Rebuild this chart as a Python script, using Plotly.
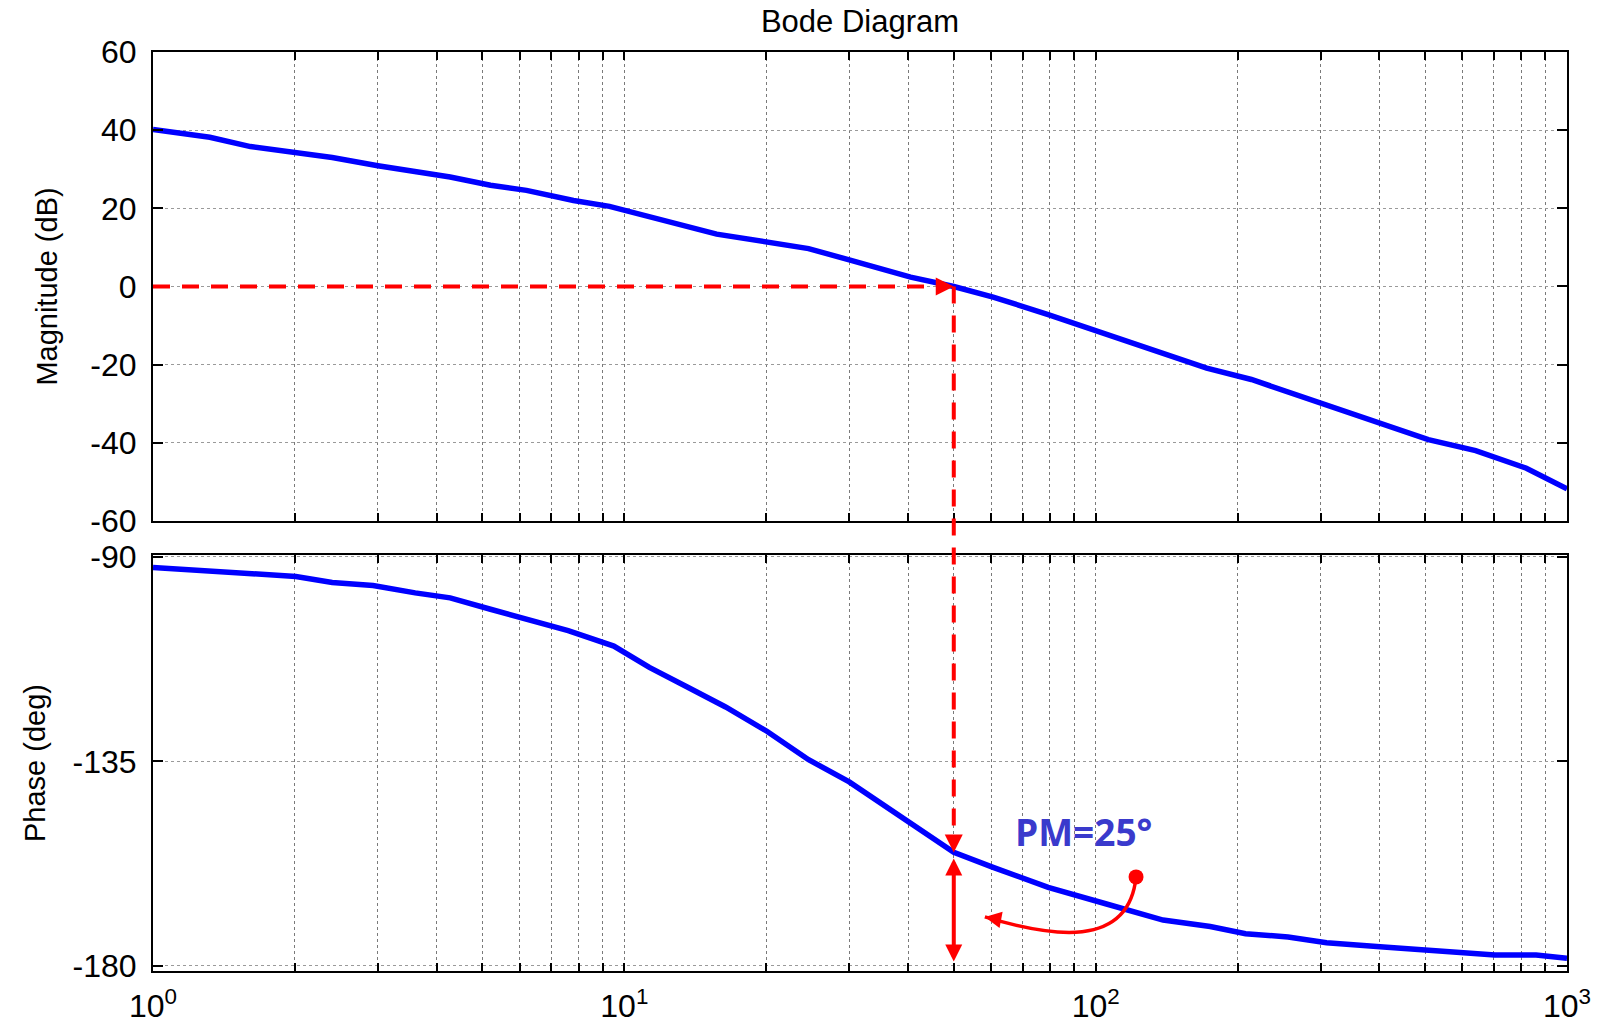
import numpy as np
import plotly.graph_objects as go

# Open-loop frequency response (rad/s)
w_mag = [1.0, 1.32, 1.61, 2.01, 2.4, 3.0, 4.27, 5.2, 6.2, 7.8, 9.3, 15.7, 24.6, 30.0,
         40.5, 50.0, 60.6, 79.3, 100.0, 117.0, 172.0, 214.0, 266.0, 309.0, 408.0,
         508.0, 640.0, 820.0, 1000.0]
mag_db = [40.2, 38.2, 35.8, 34.3, 33.0, 30.9, 28.0, 25.9, 24.6, 22.0, 20.5, 13.4, 9.7, 6.8,
          2.4, 0.0, -2.7, -7.2, -11.4, -14.0, -20.9, -23.8, -27.7, -30.4, -35.6,
          -39.2, -42.0, -46.5, -51.8]

w_phase = [1.0, 2.01, 2.4, 2.93, 3.6, 4.27, 5.2, 6.2, 7.6, 9.5, 11.3, 13.6, 16.4, 20.1,
           24.6, 30.0, 36.7, 50.0, 60.6, 79.3, 105.0, 139.0, 175.0, 208.0, 256.0, 309.0,
           408.0, 522.0, 703.0, 860.0, 1000.0]
phase_deg = [-92.3, -94.3, -95.6, -96.3, -97.9, -99.0, -101.5, -103.7, -106.2, -109.6,
             -114.3, -118.6, -123.0, -128.4, -134.6, -139.5, -145.6, -155.0, -158.3,
             -162.7, -166.3, -169.9, -171.3, -172.9, -173.6, -174.9, -175.8, -176.7,
             -177.6, -177.6, -178.3]

w_cross = 50.0          # gain crossover frequency
pm_deg = 25             # phase margin
phase_at_cross = -180 + pm_deg

mag_ticks = [60, 40, 20, 0, -20, -40, -60]
phase_ticks = [-90, -135, -180]
decades = [1, 10, 100, 1000]
decade_labels = ["10<sup>0</sup>", "10<sup>1</sup>", "10<sup>2</sup>", "10<sup>3</sup>"]
minor_vals = [k * 10 ** d for d in range(3) for k in range(2, 10)]

# layout geometry
mag_domain = [0.4897, 1.0]
phase_domain = [0.0, 0.4527]
mag_range = [-60, 60]
phase_range = [-181.1, -89.56]

BLUE = "#0000ff"
RED = "#ff0000"
GRID = "#7a7a7a"
FONT = "Liberation Sans, Arial, sans-serif"


def paper_y(val, domain, rng):
    return domain[0] + (val - rng[0]) / (rng[1] - rng[0]) * (domain[1] - domain[0])


def head(x, y, xref, yref, ax, ay, width=4, size=0.9):
    """Arrowhead pointing at (x, y); x is a log10 value on the log axes."""
    fig.add_annotation(x=x, y=y, xref=xref, yref=yref, ax=ax, ay=ay, text="",
                       showarrow=True, arrowhead=2, arrowsize=size, arrowwidth=width,
                       arrowcolor=RED)


fig = go.Figure()

fig.add_trace(go.Scatter(x=w_mag, y=mag_db, mode="lines", xaxis="x", yaxis="y",
                         line=dict(color=BLUE, width=5.5), showlegend=False, hoverinfo="skip"))
fig.add_trace(go.Scatter(x=w_phase, y=phase_deg, mode="lines", xaxis="x2", yaxis="y2",
                         line=dict(color=BLUE, width=5.5), showlegend=False, hoverinfo="skip"))

# dashed guide: 0 dB across to the crossover
fig.add_shape(type="line", xref="x", yref="y", x0=1, x1=w_cross * 0.93, y0=0, y1=0,
              line=dict(color=RED, width=4, dash="17px,12px"))
head(np.log10(w_cross), 0, "x", "y", -10, 0)

# dashed guide: crossover down to the phase curve
y_top = paper_y(0, mag_domain, mag_range)
y_bot = paper_y(phase_at_cross + 4, phase_domain, phase_range)
fig.add_shape(type="line", xref="x2", yref="paper", x0=w_cross, x1=w_cross,
              y0=y_top, y1=y_bot, line=dict(color=RED, width=4, dash="17px,12px"))
head(np.log10(w_cross), phase_at_cross, "x2", "y2", 0, -10)

# phase margin double arrow between -180 deg and the curve
fig.add_annotation(x=np.log10(w_cross), y=phase_at_cross, xref="x2", yref="y2",
                   ax=np.log10(w_cross), ay=-180, axref="x2", ayref="y2", text="",
                   showarrow=True, arrowhead=2, startarrowhead=2, arrowside="end+start",
                   arrowsize=0.85, startarrowsize=0.85, arrowwidth=4, arrowcolor=RED,
                   standoff=6, startstandoff=3)

# curved pointer from the label to the margin arrow
curve_start = (121.8, -160.4)
curve_end = (58.2, -169.2)
fig.add_shape(type="path", xref="x2", yref="y2",
              path=f"M {curve_start[0]},{curve_start[1]} C 117.5,-176.5 80,-173.5 "
                   f"{curve_end[0]},{curve_end[1]}",
              line=dict(color=RED, width=3.5))
fig.add_trace(go.Scatter(x=[curve_start[0]], y=[curve_start[1]], mode="markers",
                         xaxis="x2", yaxis="y2", marker=dict(color=RED, size=15),
                         showlegend=False, hoverinfo="skip"))
head(np.log10(curve_end[0]), curve_end[1], "x2", "y2", 16, 3, width=3, size=1.1)

fig.add_annotation(x=np.log10(94), y=-150.5, xref="x2", yref="y2",
                   text=f"<b>PM={pm_deg}°</b>", showarrow=False,
                   font=dict(family="Open Sans, sans-serif", size=37, color="#3a3acc"))

common_x = dict(type="log", range=[0, 3], tickvals=decades, ticktext=decade_labels,
                showgrid=True, gridcolor=GRID, griddash="dot", gridwidth=1,
                ticks="inside", ticklen=8, tickwidth=2, tickcolor="black",
                minor=dict(tickvals=minor_vals, showgrid=True, gridcolor=GRID,
                           griddash="dot", gridwidth=1, ticks="inside", ticklen=8,
                           tickwidth=2, tickcolor="black"),
                showline=True, linecolor="black", linewidth=2, mirror="allticks",
                zeroline=False, automargin=False,
                tickfont=dict(family=FONT, size=32, color="black"))
common_y = dict(showgrid=True, gridcolor="#9a9a9a", griddash="dot", gridwidth=1,
                ticks="inside", ticklen=10, tickwidth=2, tickcolor="black",
                showline=True, linecolor="black", linewidth=2, mirror="allticks",
                zeroline=False, ticklabelstandoff=8, automargin=False,
                tickfont=dict(family=FONT, size=32, color="black"))

fig.update_layout(
    width=1606, height=1027,
    margin=dict(l=153, r=39, t=52, b=56),
    paper_bgcolor="white", plot_bgcolor="white",
    title=dict(text="Bode Diagram", x=0.5355, xanchor="center", y=0.979, yanchor="middle",
               yref="container", font=dict(family=FONT, size=31, color="black")),
    xaxis=dict(common_x, anchor="y", showticklabels=False),
    yaxis=dict(common_y, domain=mag_domain, range=mag_range, tickvals=mag_ticks,
               ticktext=[str(v) for v in mag_ticks],
               title=dict(text="Magnitude (dB)", standoff=24,
                          font=dict(family=FONT, size=29, color="black"))),
    xaxis2=dict(common_x, anchor="y2", ticklabelstandoff=6),
    yaxis2=dict(common_y, domain=phase_domain, range=phase_range, tickvals=phase_ticks,
                ticktext=[str(v) for v in phase_ticks],
                title=dict(text="Phase (deg)", standoff=18,
                           font=dict(family=FONT, size=29, color="black"))),
    showlegend=False,
)

fig.write_html("out.html")
